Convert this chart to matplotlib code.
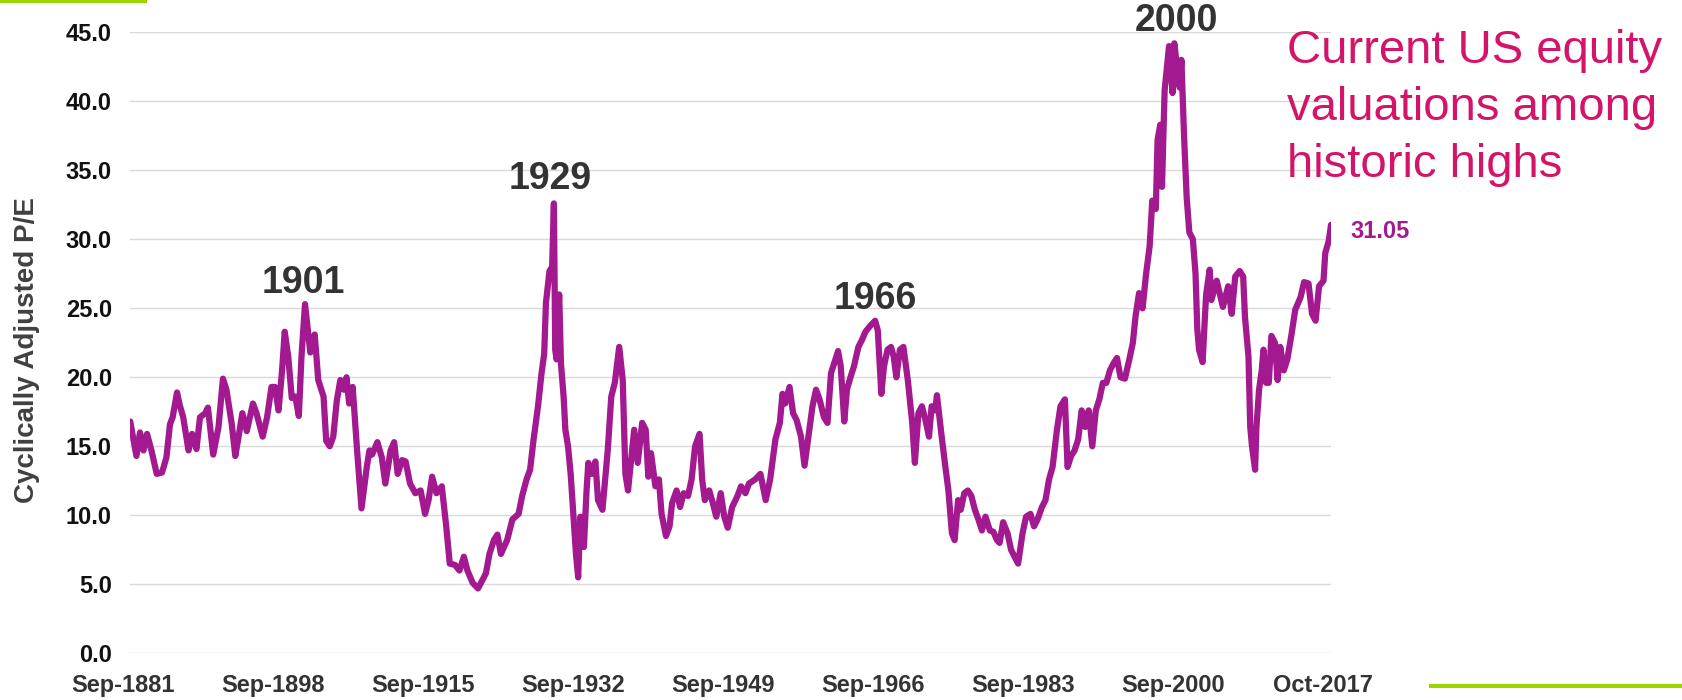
import matplotlib
matplotlib.use("Agg")
import matplotlib.pyplot as plt
import matplotlib.transforms as mtransforms
from matplotlib.patches import Rectangle

plt.rcParams["font.family"] = ["Liberation Sans", "DejaVu Sans"]

# Shiller CAPE, values (year as decimal, value)
years = [
    1881.7, 1882.0, 1882.4, 1882.8, 1883.2, 1883.6, 1884.1, 1884.7, 1885.3, 1885.8,
    1886.2, 1886.5, 1887.0, 1887.3, 1887.7, 1888.3, 1888.7, 1889.2, 1889.6, 1890.2,
    1890.5, 1891.1, 1891.7, 1892.2, 1892.6, 1893.2, 1893.6, 1894.0, 1894.4, 1894.9,
    1895.6, 1896.0, 1896.7, 1897.2, 1897.7, 1898.1, 1898.5, 1898.9, 1899.2, 1899.6,
    1900.0, 1900.4, 1900.8, 1901.1, 1901.5, 1902.1, 1902.6, 1903.0, 1903.6, 1903.9,
    1904.3, 1904.7, 1905.1, 1905.5, 1905.9, 1906.2, 1906.5, 1906.9, 1907.4, 1907.9,
    1908.5, 1908.8, 1909.1, 1909.7, 1910.2, 1910.6, 1911.2, 1911.6, 1912.0, 1912.5,
    1912.9, 1913.4, 1914.0, 1914.6, 1915.1, 1915.5, 1915.9, 1916.4, 1917.0, 1917.5,
    1917.9, 1918.5, 1919.0, 1919.5, 1919.9, 1920.5, 1921.1, 1921.6, 1922.0, 1922.4,
    1922.9, 1923.3, 1923.7, 1924.4, 1925.0, 1925.7, 1926.1, 1926.6, 1927.0, 1927.4,
    1927.9, 1928.3, 1928.6, 1928.8, 1929.2, 1929.5, 1929.7, 1929.85, 1930.0, 1930.3,
    1930.5, 1930.8, 1931.0, 1931.3, 1931.6, 1932.0, 1932.2, 1932.45, 1932.7, 1933.1,
    1933.4, 1933.6, 1934.0, 1934.4, 1934.7, 1935.2, 1935.8, 1936.2, 1936.6, 1937.1,
    1937.5, 1937.8, 1938.1, 1938.5, 1938.8, 1939.2, 1939.7, 1940.1, 1940.4, 1940.7,
    1941.2, 1941.6, 1941.9, 1942.4, 1942.8, 1943.1, 1943.6, 1944.0, 1944.4, 1944.9,
    1945.3, 1945.7, 1946.2, 1946.5, 1946.8, 1947.3, 1947.7, 1948.1, 1948.6, 1949.0,
    1949.4, 1949.9, 1950.5, 1950.9, 1951.4, 1951.8, 1952.5, 1953.1, 1953.7, 1954.2,
    1954.8, 1955.3, 1955.6, 1955.9, 1956.4, 1956.8, 1957.2, 1957.7, 1958.1, 1958.5,
    1959.0, 1959.4, 1959.8, 1960.3, 1960.7, 1961.1, 1961.6, 1961.9, 1962.2, 1962.6,
    1962.9, 1963.3, 1963.7, 1964.2, 1964.6, 1965.0, 1965.5, 1966.1, 1966.4, 1966.8,
    1967.1, 1967.5, 1967.9, 1968.2, 1968.5, 1968.9, 1969.3, 1969.8, 1970.3, 1970.6,
    1971.0, 1971.4, 1971.8, 1972.2, 1972.5, 1972.9, 1973.1, 1973.6, 1974.0, 1974.4,
    1974.8, 1975.1, 1975.5, 1975.8, 1976.2, 1976.6, 1977.0, 1977.4, 1977.8, 1978.2,
    1978.6, 1979.1, 1979.5, 1979.9, 1980.2, 1980.6, 1981.1, 1981.5, 1981.9, 1982.3,
    1982.8, 1983.2, 1983.7, 1984.1, 1984.5, 1985.0, 1985.4, 1985.8, 1986.2, 1986.7,
    1987.1, 1987.6, 1987.9, 1988.3, 1988.7, 1989.1, 1989.5, 1989.9, 1990.3, 1990.7,
    1991.1, 1991.5, 1991.9, 1992.3, 1992.7, 1993.1, 1993.5, 1993.9, 1994.4, 1994.9,
    1995.3, 1995.6, 1996.0, 1996.4, 1996.8, 1997.2, 1997.5, 1997.9, 1998.1, 1998.4,
    1998.6, 1998.9, 1999.4, 1999.8, 2000.0, 2000.3, 2000.6, 2000.8, 2001.1, 2001.4,
    2001.7, 2002.1, 2002.4, 2002.6, 2002.8, 2003.2, 2003.6, 2004.0, 2004.2, 2004.8,
    2005.5, 2006.1, 2006.5, 2006.9, 2007.4, 2007.8, 2008.0, 2008.4, 2008.6, 2008.8,
    2009.15, 2009.3, 2009.6, 2009.9, 2010.1, 2010.4, 2010.7, 2011.0, 2011.4, 2011.7,
    2012.0, 2012.4, 2012.8, 2013.3, 2013.7, 2014.3, 2014.7, 2015.2, 2015.6, 2016.0,
    2016.4, 2016.9, 2017.1, 2017.5, 2017.75,
]
cape = [
    16.8, 15.7, 14.3, 16.0, 14.7, 15.9, 14.7, 13.0, 13.1, 14.2,
    16.6, 17.1, 18.9, 18.0, 17.1, 14.7, 15.9, 14.8, 17.1, 17.4,
    17.8, 14.4, 16.4, 19.9, 19.1, 16.6, 14.3, 15.8, 17.4, 16.1,
    18.1, 17.4, 15.7, 17.1, 19.3, 19.3, 17.6, 20.5, 23.3, 21.5,
    18.5, 18.6, 17.2, 21.5, 25.3, 21.8, 23.1, 19.8, 18.6, 15.4,
    15.0, 15.7, 18.3, 19.8, 19.1, 20.0, 18.1, 19.3, 14.7, 10.5,
    13.5, 14.7, 14.4, 15.3, 14.2, 12.3, 14.7, 15.3, 13.0, 14.0,
    13.9, 12.3, 11.6, 11.8, 10.1, 11.1, 12.8, 11.6, 12.1, 9.2,
    6.5, 6.4, 6.0, 7.0, 6.0, 5.1, 4.7, 5.3, 5.8, 7.2,
    8.2, 8.6, 7.2, 8.2, 9.7, 10.1, 11.4, 12.6, 13.3, 15.5,
    17.9, 20.3, 21.7, 25.4, 27.7, 28.0, 32.6, 22.0, 21.3, 26.0,
    21.0, 18.6, 16.2, 15.0, 13.0, 9.2, 7.2, 5.5, 9.9, 7.7,
    11.8, 13.8, 13.0, 13.9, 11.1, 10.4, 14.7, 18.6, 19.6, 22.2,
    19.8, 13.0, 11.8, 14.3, 16.2, 13.8, 16.7, 16.2, 12.8, 14.5,
    12.1, 12.6, 10.1, 8.5, 9.2, 10.9, 11.8, 10.6, 11.6, 11.4,
    12.6, 15.0, 15.9, 12.6, 11.1, 11.8, 10.9, 9.9, 11.6, 9.9,
    9.1, 10.6, 11.4, 12.1, 11.6, 12.3, 12.6, 13.0, 11.1, 12.6,
    15.5, 16.7, 18.8, 18.1, 19.3, 17.4, 16.9, 15.7, 13.6, 15.5,
    17.9, 19.1, 18.4, 17.1, 16.7, 20.3, 21.3, 21.9, 20.8, 16.8,
    19.1, 20.0, 20.8, 22.2, 22.7, 23.3, 23.7, 24.1, 23.4, 18.8,
    20.8, 22.0, 22.2, 21.5, 20.0, 22.0, 22.2, 19.8, 16.7, 13.8,
    17.4, 17.9, 16.9, 15.7, 17.9, 17.6, 18.7, 15.9, 13.8, 11.8,
    8.7, 8.2, 11.1, 10.4, 11.6, 11.8, 11.4, 10.4, 9.7, 8.9,
    9.9, 8.9, 8.8, 8.2, 8.0, 9.5, 8.7, 7.5, 7.0, 6.5,
    8.7, 9.9, 10.1, 9.2, 9.7, 10.6, 11.1, 12.6, 13.5, 16.2,
    17.9, 18.4, 13.5, 14.3, 14.7, 15.5, 17.6, 16.4, 17.6, 15.0,
    17.6, 18.4, 19.6, 19.6, 20.5, 21.0, 21.4, 20.0, 19.9, 21.3,
    22.5, 24.4, 26.1, 25.0, 27.5, 29.5, 32.8, 32.2, 37.2, 38.3,
    33.8, 40.8, 44.0, 40.6, 44.2, 42.5, 41.0, 43.0, 37.5, 33.0,
    30.5, 30.0, 27.5, 23.5, 22.0, 21.1, 26.0, 27.8, 25.6, 27.0,
    25.1, 26.6, 24.6, 27.3, 27.7, 27.3, 24.4, 21.5, 16.4, 15.0,
    13.3, 16.4, 19.1, 20.5, 22.0, 19.6, 19.6, 23.0, 22.5, 19.8,
    22.2, 20.5, 21.3, 23.2, 24.9, 25.8, 26.9, 26.8, 24.6, 24.1,
    26.6, 27.0, 29.0, 29.9, 31.05,
]

tick_years = [1881.67, 1898.67, 1915.67, 1932.67, 1949.67, 1966.67, 1983.67, 2000.67, 2017.67]
tick_labels = ["Sep-1881", "Sep-1898", "Sep-1915", "Sep-1932", "Sep-1949",
               "Sep-1966", "Sep-1983", "Sep-2000", "Oct-2017"]

peaks = ["1901", "1929", "1966", "2000"]
peak_pos = [(1901.3, 26.8), (1929.3, 34.4), (1966.1, 25.7), (2000.2, 45.8)]

line_color = "#A3198F"
note_color = "#D31468"
green = "#99D600"

fig = plt.figure(figsize=(16.83, 7.0), dpi=100)
ax = fig.add_axes([130 / 1683, 1 - 653.3 / 700, 1201 / 1683, 621 / 700])

ax.plot(years, cape, color=line_color, lw=4.5, solid_joinstyle="round",
        solid_capstyle="round", zorder=3)

ax.set_xlim(1881.67, 2017.75)
ax.set_ylim(0, 45)
ax.set_yticks([0, 5, 10, 15, 20, 25, 30, 35, 40, 45])
ax.set_yticklabels([f"{v:.1f}" for v in ax.get_yticks()])
ax.set_xticks(tick_years)
ax.set_xticklabels(tick_labels)
ax.grid(axis="y", color="#D9D9D9", lw=1.0)
ax.set_axisbelow(True)
for s in ax.spines.values():
    s.set_visible(False)
ax.tick_params(axis="both", length=0)
ax.tick_params(axis="y", pad=13, labelsize=17, labelcolor="#111111")
ax.tick_params(axis="x", pad=15, labelsize=17, labelcolor="#333333")
for lbl in ax.get_yticklabels() + ax.get_xticklabels():
    lbl.set_fontweight("bold")

# category labels sit a bit left of the data points
shift = mtransforms.ScaledTranslation(-7 / 100, 0, fig.dpi_scale_trans)
for lbl in ax.get_xticklabels():
    lbl.set_transform(lbl.get_transform() + shift)

for name, (px, py) in zip(peaks, peak_pos):
    ax.text(px, py, name, ha="center", va="center", fontsize=27,
            fontweight="bold", color="#333333")

ax.text(2020.0, 30.6, "31.05", ha="left", va="center", fontsize=17,
        fontweight="bold", color=line_color)

fig.text(27 / 1683, 1 - 350 / 700, "Cyclically Adjusted P/E", rotation=90,
         ha="center", va="center", fontsize=20, fontweight="bold", color="#404040")

note = ["Current US equity", "valuations among", "historic highs"]
for i, line in enumerate(note):
    fig.text(1287 / 1683, 1 - (63 + 57 * i) / 700, line, ha="left",
             va="baseline", fontsize=34, color=note_color)

# green accent bars
fig.patches.append(Rectangle((0, 1 - 3 / 700), 147 / 1683, 3 / 700,
                             transform=fig.transFigure, color=green, lw=0))
fig.patches.append(Rectangle((1429 / 1683, 1 - 688 / 700), 254 / 1683, 4 / 700,
                             transform=fig.transFigure, color=green, lw=0))

fig.savefig("out.png", dpi=100)
